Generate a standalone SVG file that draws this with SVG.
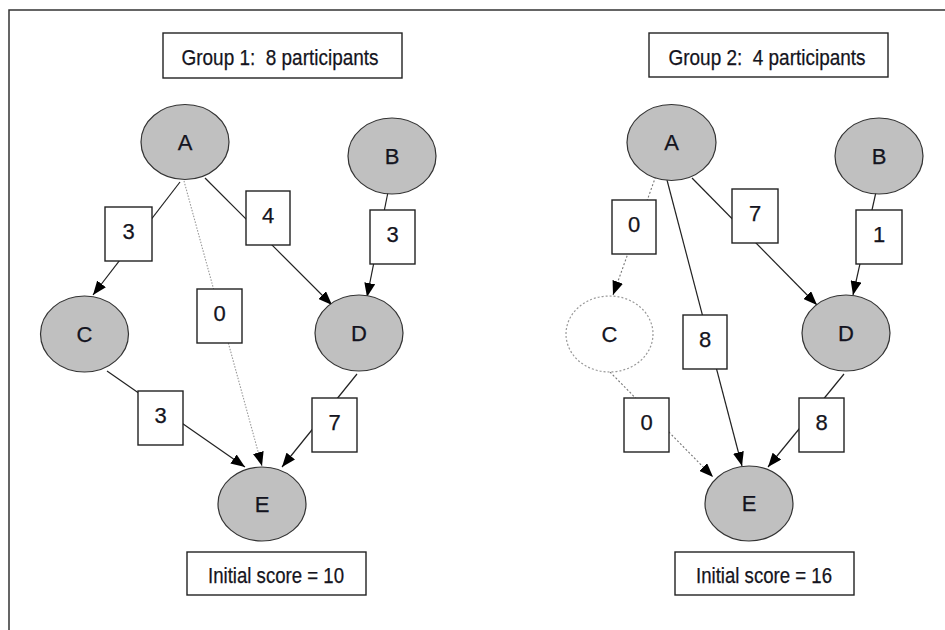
<svg xmlns="http://www.w3.org/2000/svg" width="945" height="630" viewBox="0 0 945 630">
<defs>
<marker id="arr" markerUnits="userSpaceOnUse" markerWidth="15" markerHeight="11" refX="14" refY="5.5" orient="auto">
<path d="M0,0 L14,5.5 L0,11 Z" fill="#000"/>
</marker>
<style>
text{font-family:"Liberation Sans",Arial,sans-serif;font-size:22px;fill:#141420;text-anchor:middle;stroke:#141420;stroke-width:0.25;white-space:pre}
.node{fill:#c0c0c0;stroke:#333;stroke-width:1.2}
.ghost{fill:#fff;stroke:#999;stroke-width:1.2;stroke-dasharray:2 2}
.box{fill:#fff;stroke:#222;stroke-width:1.4}
.e{fill:none;stroke:#222;stroke-width:1.2;marker-end:url(#arr)}
.dot{fill:none;stroke:#999;stroke-width:1.1;stroke-dasharray:1.5 1.5;marker-end:url(#arr)}
.dot2{fill:none;stroke:#777;stroke-width:1.1;stroke-dasharray:2 2;marker-end:url(#arr)}
</style>
</defs>
<rect width="945" height="630" fill="#fff"/>
<path d="M9,630 L9,10 L945,10" fill="none" stroke="#333" stroke-width="1.5"/>

<g id="g1-title"><rect class="box" x="163" y="33" width="239" height="45"/><text x="280" y="65" textLength="197" lengthAdjust="spacingAndGlyphs" xml:space="preserve">Group 1:  8 participants</text></g>
<g id="g1-score"><rect class="box" x="187" y="552" width="179" height="43"/><text x="276" y="583" textLength="136" lengthAdjust="spacingAndGlyphs">Initial score = 10</text></g>
<g id="g2-title"><rect class="box" x="649" y="33" width="239" height="44"/><text x="767" y="65" textLength="197" lengthAdjust="spacingAndGlyphs" xml:space="preserve">Group 2:  4 participants</text></g>
<g id="g2-score"><rect class="box" x="675" y="552" width="179" height="43"/><text x="764" y="583" textLength="136" lengthAdjust="spacingAndGlyphs">Initial score = 16</text></g>

<g id="connectors">
<line class="e" x1="180" y1="182" x2="93" y2="295"/>
<line class="e" x1="205" y1="178" x2="332" y2="305"/>
<line class="e" x1="388" y1="192" x2="367" y2="297"/>
<line class="dot" x1="184" y1="181" x2="262" y2="466"/>
<line class="e" x1="107" y1="371" x2="245" y2="467"/>
<line class="e" x1="357" y1="374" x2="282" y2="467"/>
<line class="dot2" x1="657" y1="173" x2="613" y2="295"/>
<line class="e" x1="667" y1="180" x2="742" y2="466"/>
<line class="e" x1="692" y1="178" x2="817" y2="305"/>
<line class="e" x1="876" y1="192" x2="853" y2="295"/>
<line class="dot2" x1="610" y1="372" x2="713" y2="477"/>
<line class="e" x1="844" y1="374" x2="768" y2="467"/>
<g id="l-g1-AC"><rect class="box" x="105" y="207" width="47" height="54"/><text x="128.5" y="239">3</text></g>
<g id="l-g1-AD"><rect class="box" x="246" y="191" width="44" height="54"/><text x="268" y="223">4</text></g>
<g id="l-g1-BD"><rect class="box" x="370" y="210" width="45" height="54"/><text x="392.5" y="242">3</text></g>
<g id="l-g1-AE"><rect class="box" x="197" y="289" width="45" height="54"/><text x="219.5" y="321">0</text></g>
<g id="l-g1-CE"><rect class="box" x="138" y="391" width="45" height="54"/><text x="160.5" y="423">3</text></g>
<g id="l-g1-DE"><rect class="box" x="312" y="398" width="45" height="54"/><text x="334.5" y="430">7</text></g>
<g id="l-g2-AC"><rect class="box" x="612" y="200" width="44" height="54"/><text x="634" y="232">0</text></g>
<g id="l-g2-AE"><rect class="box" x="683" y="315" width="44" height="54"/><text x="705" y="347">8</text></g>
<g id="l-g2-AD"><rect class="box" x="732" y="189" width="46" height="54"/><text x="755" y="221">7</text></g>
<g id="l-g2-BD"><rect class="box" x="856" y="210" width="46" height="54"/><text x="879" y="242">1</text></g>
<g id="l-g2-CE"><rect class="box" x="624" y="398" width="45" height="54"/><text x="646.5" y="430">0</text></g>
<g id="l-g2-DE"><rect class="box" x="799" y="398" width="45" height="54"/><text x="821.5" y="430">8</text></g>
</g>

<g id="g1-A"><ellipse class="node" cx="185" cy="142" rx="44" ry="37.5"/><text x="185" y="150">A</text></g>
<g id="g1-B"><ellipse class="node" cx="392" cy="156" rx="44" ry="38"/><text x="392" y="164">B</text></g>
<g id="g1-C"><ellipse class="node" cx="84.5" cy="334" rx="44" ry="38"/><text x="84.5" y="342">C</text></g>
<g id="g1-D"><ellipse class="node" cx="359" cy="333" rx="44" ry="38"/><text x="359" y="341">D</text></g>
<g id="g1-E"><ellipse class="node" cx="262" cy="504" rx="44" ry="37"/><text x="262" y="512">E</text></g>

<g id="g2-A"><ellipse class="node" cx="671.5" cy="142.5" rx="44.5" ry="38"/><text x="671.5" y="150">A</text></g>
<g id="g2-B"><ellipse class="node" cx="879" cy="156" rx="44" ry="38"/><text x="879" y="164">B</text></g>
<g id="g2-C"><ellipse class="ghost" cx="609.5" cy="334" rx="43.5" ry="38"/><text x="609.5" y="342">C</text></g>
<g id="g2-D"><ellipse class="node" cx="846" cy="333" rx="44" ry="38"/><text x="846" y="341">D</text></g>
<g id="g2-E"><ellipse class="node" cx="749" cy="503.5" rx="44" ry="37.5"/><text x="749" y="511">E</text></g>
</svg>
